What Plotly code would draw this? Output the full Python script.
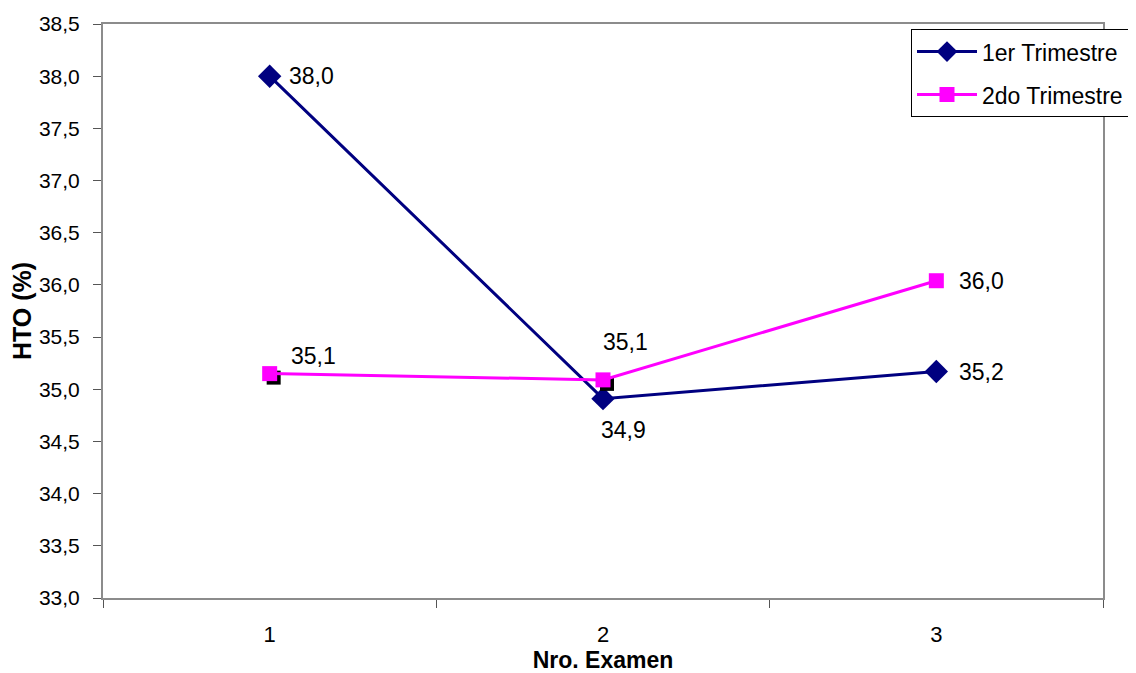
import plotly.graph_objects as go

examenes = [1, 2, 3]
trim1 = [38.0, 34.91, 35.17]
trim2 = [35.15, 35.09, 36.04]
sombra = [35.15, 35.09, None]  # black shadow squares behind pink points
y_ticks = [33.0 + 0.5 * i for i in range(12)]

FONT = "Arial, Liberation Sans, sans-serif"
NAVY = "#000080"
PINK = "#FF00FF"

def fmt(v):
    return f"{v:.1f}".replace(".", ",")

fig = go.Figure()

fig.add_trace(go.Scatter(
    x=examenes, y=trim1, name="1er Trimestre", mode="lines+markers",
    line=dict(color=NAVY, width=3),
    marker=dict(symbol="diamond", size=18, color=NAVY),
    legendgroup="a", xaxis="x", yaxis="y"))

fig.add_trace(go.Scatter(
    x=examenes, y=sombra, mode="markers", showlegend=False,
    marker=dict(symbol="square", size=14, color="black"),
    xaxis="x2", yaxis="y2", hoverinfo="skip"))

fig.add_trace(go.Scatter(
    x=examenes, y=trim2, name="2do Trimestre", mode="lines+markers",
    line=dict(color=PINK, width=3),
    marker=dict(symbol="square", size=15, color=PINK),
    legendgroup="b", xaxis="x3", yaxis="y3"))

offs1 = [(42, 0), (20, -31), (45, 0)]
offs2 = [(44, 18), (22, 38), (45, 0)]
ann = []
for xv, yv, (dx, dy) in zip(examenes, trim1, offs1):
    ann.append(dict(x=xv, y=yv, xref="x", yref="y", text=fmt(yv), showarrow=False,
                    xshift=dx, yshift=dy, font=dict(size=23, color="black", family=FONT)))
for xv, yv, (dx, dy) in zip(examenes, trim2, offs2):
    ann.append(dict(x=xv, y=yv, xref="x", yref="y", text=fmt(yv), showarrow=False,
                    xshift=dx, yshift=dy, font=dict(size=23, color="black", family=FONT)))

XR = [0.5, 3.5]
YR = [33.0, 38.5]
dx_units = 4 / (1000 / 3)
dy_units = 4 / (574 / 5.5)

fig.update_layout(
    width=1136, height=673,
    margin=dict(l=95, r=41, t=16, b=83, autoexpand=False),
    paper_bgcolor="white", plot_bgcolor="white",
    font=dict(family=FONT, size=21, color="black"),
    separators=",.",
    showlegend=True,
    legend=dict(x=0.808, y=0.991, xanchor="left", yanchor="top",
                bgcolor="white", bordercolor="black", borderwidth=1,
                font=dict(size=23, family=FONT), tracegroupgap=10,
                itemwidth=60),
    annotations=ann,
    xaxis=dict(range=XR, tickvals=examenes, ticktext=[str(v) for v in examenes],
               ticks="", showgrid=False, zeroline=False,
               showline=True, linecolor="#8c8c8c", linewidth=2, mirror=True,
               minor=dict(tick0=0.5, dtick=1, ticks="outside", ticklen=8,
                          tickcolor="#555", tickwidth=1, showgrid=False),
               tickfont=dict(size=22), ticklabelstandoff=16,
               title=dict(text="<b>Nro. Examen</b>", font=dict(size=23), standoff=0)),
    yaxis=dict(range=YR, tickvals=y_ticks, tickformat=".1f",
               ticks="outside", ticklen=8, tickcolor="#555",
               showgrid=False, zeroline=False,
               showline=True, linecolor="#8c8c8c", linewidth=2, mirror=True,
               tickfont=dict(size=21), ticklabelstandoff=9,
               title=dict(text="<b>HTO (%)</b>", font=dict(size=25), standoff=0)),
    xaxis2=dict(range=[XR[0] - dx_units, XR[1] - dx_units], overlaying="x",
                visible=False),
    yaxis2=dict(range=[YR[0] + dy_units, YR[1] + dy_units], overlaying="y",
                visible=False),
    xaxis3=dict(range=XR, overlaying="x", visible=False),
    yaxis3=dict(range=YR, overlaying="y", visible=False),
)

fig.write_html("out.html")
